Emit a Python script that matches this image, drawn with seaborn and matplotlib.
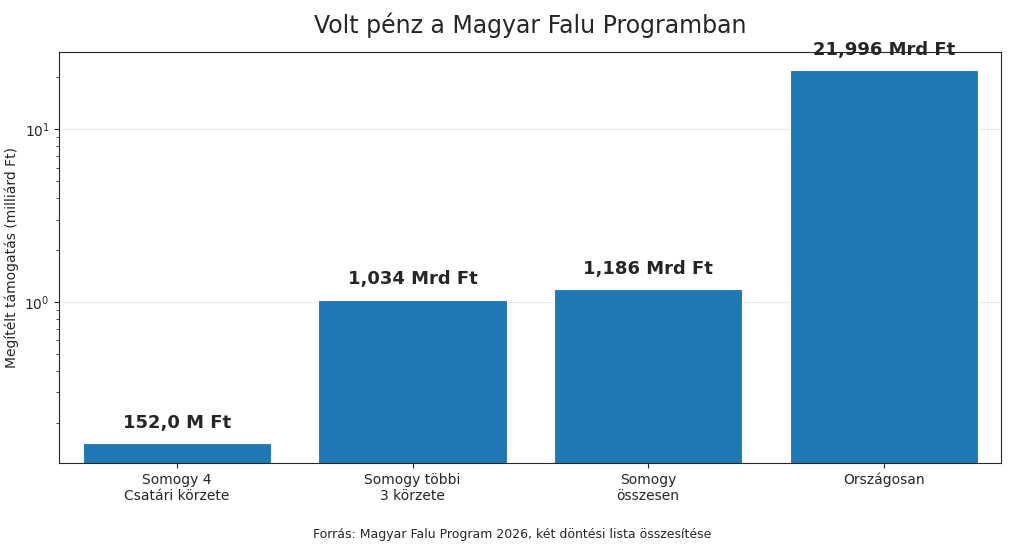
import matplotlib
matplotlib.use("Agg")
import matplotlib.pyplot as plt
import seaborn as sns

categories = ["Somogy 4\nCsatári körzete", "Somogy többi\n3 körzete", "Somogy\nösszesen", "Országosan"]
values = [0.152, 1.034, 1.186, 21.996]
bar_labels = ["152,0 M Ft", "1,034 Mrd Ft", "1,186 Mrd Ft", "21,996 Mrd Ft"]

sns.set_style("ticks")
plt.rcParams['font.family'] = ['DejaVu Sans']

fig, ax = plt.subplots(figsize=(10.24, 5.5), dpi=100)
sns.barplot(x=categories, y=values, color="#1f77b4", saturation=1, width=0.8,
            edgecolor="white", linewidth=0.8, ax=ax)
ax.set_yscale("log")
ax.set_ylim(0.117, 27.9)
ax.grid(axis="y", color="#e8e8e8", linewidth=0.8)
ax.set_axisbelow(True)
for i, (v, lab) in enumerate(zip(values, bar_labels)):
    ax.annotate(lab, (i, v), xytext=(0, 8), textcoords="offset points",
                ha="center", va="bottom", fontsize=13, fontweight="bold")
ax.set_ylabel("Megítélt támogatás (milliárd Ft)", fontsize=10)
ax.set_xlabel("")
ax.tick_params(axis="x", labelsize=10)
ax.set_title("Volt pénz a Magyar Falu Programban", fontsize=17, pad=14)
fig.text(0.5, 0.022, "Forrás: Magyar Falu Program 2026, két döntési lista összesítése",
         ha="center", fontsize=9)
fig.subplots_adjust(left=0.058, right=0.978, top=0.905, bottom=0.158)
fig.savefig("out.png")
